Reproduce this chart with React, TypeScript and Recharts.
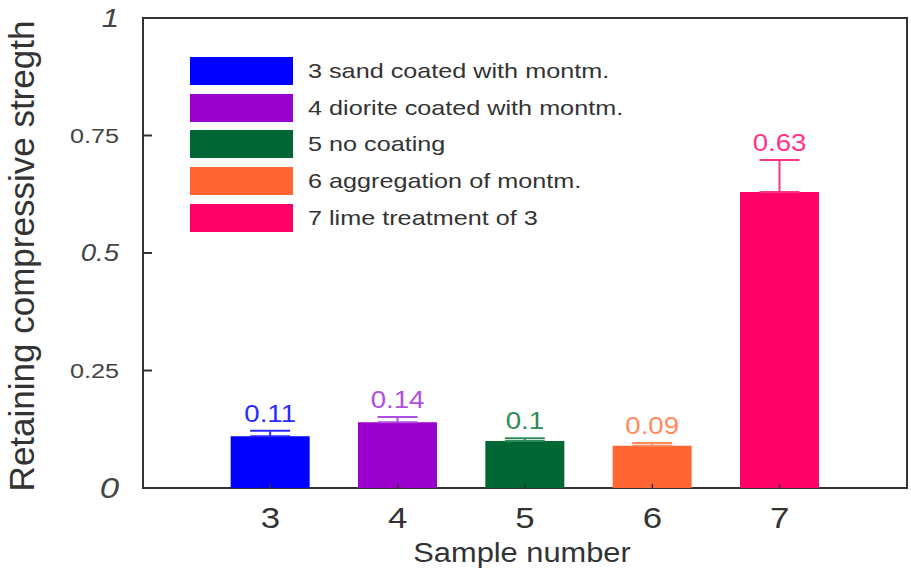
import { BarChart, Bar, XAxis, YAxis, Cell, ErrorBar, LabelList, Legend, ReferenceArea } from 'recharts'

const samples = [3, 4, 5, 6, 7]
const strength = [0.11, 0.14, 0.1, 0.09, 0.63]
const errUp = [0.012, 0.011, 0.006, 0.006, 0.068]
const legendNames = [
  '3 sand coated with montm.',
  '4 diorite coated with montm.',
  '5 no coating',
  '6 aggregation of montm.',
  '7 lime treatment of 3',
]
const yTicks = [0, 0.25, 0.5, 0.75, 1]

const barColors = ['#0000ff', '#9900cc', '#006633', '#ff6633', '#ff0066']
const labelColors = ['#2b2bff', '#b04ee0', '#2e8b57', '#ff8a5c', '#ff3388']

const FONT = '"Liberation Sans", Arial, sans-serif'
const INK = '#333'
const SX = 1.2 // the source figure is stretched horizontally

// one error key per sample, so each ErrorBar can carry its own colour
const data = samples.map((s, i) => {
  const row: any = { sample: s, value: strength[i] }
  row['err' + i] = [0, errUp[i]]
  return row
})

// y tick look: the round ones are italic and larger in the original
const yTickStyle: Record<string, { size: number; italic: boolean }> = {
  '0': { size: 29, italic: true },
  '0.25': { size: 21, italic: false },
  '0.5': { size: 23, italic: true },
  '0.75': { size: 21, italic: false },
  '1': { size: 26, italic: true },
}

const YTick = ({ x, y, payload }: any) => {
  const st = yTickStyle[String(payload.value)]
  return (
    <g>
      <line x1={x} y1={y} x2={x + 9} y2={y} stroke={INK} strokeWidth={2} />
      <text
        transform={`translate(${x - 24},${y}) scale(${SX},1)`}
        textAnchor="end"
        dominantBaseline="central"
        fontFamily={FONT}
        fontSize={st.size}
        fontStyle={st.italic ? 'italic' : 'normal'}
        fill="#444"
      >
        {payload.value}
      </text>
    </g>
  )
}

const XTick = ({ x, y, payload }: any) => (
  <g>
    <line x1={x} y1={y} x2={x} y2={y - 4} stroke={INK} strokeWidth={1.5} />
    <text
      transform={`translate(${x},${y + 40}) scale(${SX},1)`}
      textAnchor="middle"
      fontFamily={FONT}
      fontSize={29}
      fill={INK}
    >
      {payload.value}
    </text>
  </g>
)

const XTitle = ({ viewBox }: any) => (
  <text
    transform={`translate(${viewBox.x + viewBox.width / 2 - 3},${viewBox.y + 74}) scale(1.1,1)`}
    textAnchor="middle"
    fontFamily={FONT}
    fontSize={28}
    fill={INK}
  >
    Sample number
  </text>
)

const YTitle = ({ viewBox }: any) => (
  <text
    transform={`translate(34,${viewBox.y + viewBox.height / 2 + 3}) rotate(-90)`}
    textAnchor="middle"
    fontFamily={FONT}
    fontSize={35}
    fill={INK}
  >
    Retaining compressive stregth
  </text>
)

const ValueLabel = (props: any) => {
  const { x, y, width, height, value, index } = props
  const errPx = (errUp[index] * height) / value
  return (
    <text
      transform={`translate(${x + width / 2},${y - errPx - 9}) scale(${SX},1)`}
      textAnchor="middle"
      fontFamily={FONT}
      fontSize={23}
      fill={labelColors[index]}
    >
      {value}
    </text>
  )
}

const LegendBox = () => (
  <div style={{ fontFamily: FONT, fontSize: 21, color: INK }}>
    {legendNames.map((name, i) => (
      <div key={name} style={{ display: 'flex', alignItems: 'center', height: 36.6 }}>
        <div style={{ width: 103, height: 28, background: barColors[i] }} />
        <span
          style={{
            display: 'inline-block',
            marginLeft: 15,
            whiteSpace: 'nowrap',
            transform: `scaleX(${SX})`,
            transformOrigin: 'left center',
          }}
        >
          {name}
        </span>
      </div>
    ))}
  </div>
)

export default function App() {
  return (
    <div style={{ position: 'absolute', left: 0, top: 0, background: '#fff' }}>
      <BarChart width={911} height={571} data={data} margin={{ top: 18, right: 4, bottom: 0, left: 0 }}>
        <XAxis
          dataKey="sample"
          type="number"
          domain={[2, 8]}
          ticks={samples}
          height={83}
          axisLine={false}
          tickLine={false}
          tickSize={0}
          tickMargin={0}
          tick={<XTick />}
          label={<XTitle />}
        />
        <YAxis
          type="number"
          domain={[0, 1]}
          ticks={yTicks}
          width={143}
          axisLine={false}
          tickLine={false}
          tickSize={0}
          tickMargin={0}
          tick={<YTick />}
          label={<YTitle />}
        />
        <Legend
          layout="vertical"
          align="center"
          verticalAlign="middle"
          content={<LegendBox />}
          wrapperStyle={{ left: 190, top: 53, width: 'auto', height: 'auto' }}
        />
        <Bar dataKey="value" barSize={79} isAnimationActive={false}>
          {samples.map((s, i) => (
            <Cell key={s} fill={barColors[i]} />
          ))}
          {samples.map((s, i) => (
            <ErrorBar key={s} dataKey={'err' + i} direction="y" width={20} stroke={labelColors[i]} strokeWidth={2} />
          ))}
          <LabelList dataKey="value" content={<ValueLabel />} />
        </Bar>
        <ReferenceArea x1={2} x2={8} y1={0} y2={1} fill="none" fillOpacity={0} stroke={INK} strokeWidth={2} ifOverflow="visible" />
      </BarChart>
    </div>
  )
}
